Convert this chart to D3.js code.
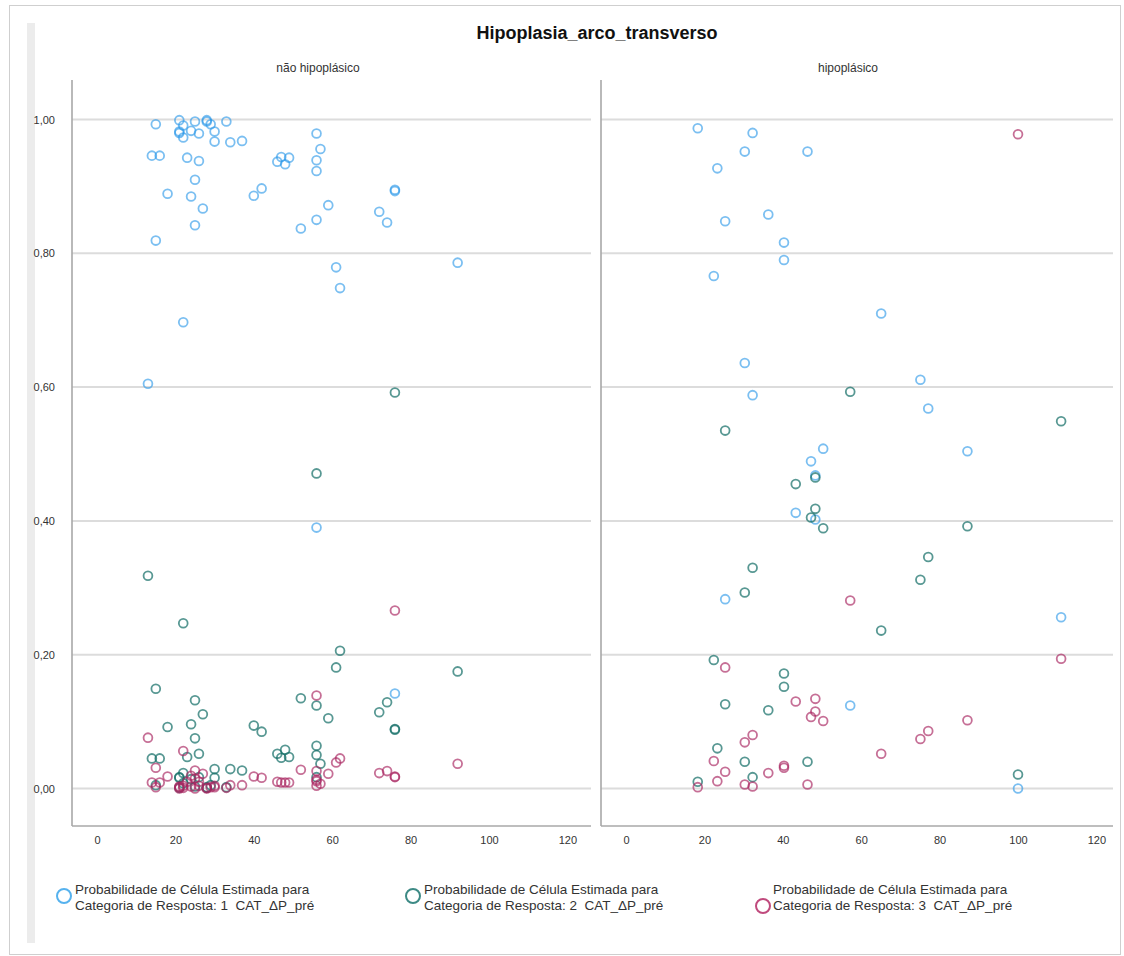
<!DOCTYPE html>
<html>
<head>
<meta charset="utf-8">
<script src="https://cdn.jsdelivr.net/npm/d3@7"></script>
<style>
  body { margin: 0; background: #fff; }
  svg { display: block; font-family: "Liberation Sans", Arial, sans-serif; }
  .legend text { white-space: pre; }
</style>
</head>
<body>
<div id="chart-area"></div>
<script>
const chartTitle = "Hipoplasia_arco_transverso";
const panels = ["não hipoplásico", "hipoplásico"];
const seriesLabels = [
  ["Probabilidade de Célula Estimada para", "Categoria de Resposta: 1  CAT_ΔP_pré"],
  ["Probabilidade de Célula Estimada para", "Categoria de Resposta: 2  CAT_ΔP_pré"],
  ["Probabilidade de Célula Estimada para", "Categoria de Resposta: 3  CAT_ΔP_pré"]
];
const xTicks = [0, 20, 40, 60, 80, 100, 120];
const yTicks = [0, 0.2, 0.4, 0.6, 0.8, 1.0];

// não hipoplásico
const leftX  = [13, 15, 15, 14, 16, 18, 21, 21, 21, 22, 22, 22, 23, 24, 24, 25, 25, 25, 26, 26, 27, 28, 28, 29, 30, 30, 33, 34, 37, 40, 42, 46, 47, 48, 49, 52, 56, 56, 56, 56, 56, 57, 59, 61, 62, 72, 74, 76, 76, 76, 92];
const leftP1 = [0.605, 0.993, 0.819, 0.946, 0.946, 0.889, 0.999, 0.982, 0.980, 0.991, 0.973, 0.697, 0.943, 0.983, 0.885, 0.997, 0.910, 0.842, 0.979, 0.938, 0.867, 0.999, 0.997, 0.993, 0.982, 0.967, 0.997, 0.966, 0.968, 0.886, 0.897, 0.937, 0.944, 0.933, 0.943, 0.837, 0.979, 0.939, 0.923, 0.850, 0.390, 0.956, 0.872, 0.779, 0.748, 0.862, 0.846, 0.895, 0.893, 0.142, 0.786];
const leftP2 = [0.318, 0.005, 0.149, 0.045, 0.045, 0.092, 0.001, 0.016, 0.017, 0.008, 0.023, 0.247, 0.047, 0.014, 0.096, 0.003, 0.075, 0.132, 0.017, 0.052, 0.111, 0.001, 0.002, 0.005, 0.016, 0.029, 0.002, 0.029, 0.027, 0.094, 0.085, 0.052, 0.046, 0.058, 0.047, 0.135, 0.017, 0.050, 0.064, 0.124, 0.471, 0.037, 0.105, 0.181, 0.206, 0.114, 0.129, 0.088, 0.089, 0.592, 0.175];
const leftP3 = [0.076, 0.002, 0.031, 0.009, 0.009, 0.018, 0.000, 0.002, 0.003, 0.001, 0.004, 0.056, 0.010, 0.003, 0.019, 0.000, 0.015, 0.027, 0.004, 0.010, 0.022, 0.000, 0.001, 0.002, 0.002, 0.004, 0.001, 0.005, 0.005, 0.018, 0.016, 0.010, 0.009, 0.009, 0.009, 0.028, 0.004, 0.011, 0.013, 0.026, 0.139, 0.007, 0.022, 0.039, 0.045, 0.023, 0.026, 0.017, 0.018, 0.266, 0.037];

// hipoplásico
const rightX  = [18.3, 22.4, 23.3, 25.3, 25.3, 30.3, 30.3, 32.3, 32.3, 36.3, 40.3, 40.3, 43.3, 46.3, 47.2, 48.3, 48.3, 50.3, 57.2, 65.1, 75.1, 77.1, 87.1, 100, 111];
const rightP1 = [0.987, 0.766, 0.927, 0.848, 0.283, 0.952, 0.636, 0.980, 0.588, 0.858, 0.816, 0.790, 0.412, 0.952, 0.489, 0.468, 0.402, 0.508, 0.124, 0.710, 0.611, 0.568, 0.504, 0.000, 0.256];
const rightP2 = [0.010, 0.192, 0.060, 0.126, 0.535, 0.040, 0.293, 0.017, 0.330, 0.117, 0.152, 0.172, 0.455, 0.040, 0.405, 0.418, 0.465, 0.389, 0.593, 0.236, 0.312, 0.346, 0.392, 0.021, 0.549];
const rightP3 = [0.002, 0.041, 0.011, 0.025, 0.181, 0.006, 0.069, 0.003, 0.080, 0.023, 0.031, 0.034, 0.130, 0.006, 0.107, 0.115, 0.134, 0.101, 0.281, 0.052, 0.074, 0.086, 0.102, 0.978, 0.194];

const W = 1124, H = 956;
const pointColors = ["#2a98e8", "#17706a", "#a82460"];
const pointOpacity = [0.62, 0.72, 0.66];
const legendColors = ["#56b2ee", "#3d8a85", "#c04a7d"];

const svg = d3.select("#chart-area")
  .append("svg")
  .attr("width", W)
  .attr("height", H);

// frame like the exported picture
svg.append("rect")
  .attr("x", 9.5).attr("y", 5.5)
  .attr("width", 1111).attr("height", 949)
  .attr("fill", "#fff")
  .attr("stroke", "#cfcfcf");
svg.append("rect")
  .attr("x", 27).attr("y", 23)
  .attr("width", 8).attr("height", 920)
  .attr("fill", "#ececec");

svg.append("text")
  .attr("x", 597).attr("y", 39)
  .attr("text-anchor", "middle")
  .attr("font-size", 18)
  .attr("font-weight", "bold")
  .attr("fill", "#111")
  .text(chartTitle);

const y = d3.scaleLinear().domain([0, 1]).range([788.5, 119.5]);
const yTop = 80, yBottom = 826;

const panelDefs = [
  { name: panels[0], x0: 72, x1: 591, titleX: 318, xs: leftX, ps: [leftP1, leftP2, leftP3], yLabels: true },
  { name: panels[1], x0: 601, x1: 1113, titleX: 848, xs: rightX, ps: [rightP1, rightP2, rightP3], yLabels: false }
];

const fmt = d => d3.format(".2f")(d).replace(".", ",");

panelDefs.forEach(p => {
  const x = d3.scaleLinear().domain([0, 120]).range([p.x0 + 25, p.x0 + 25 + 470.4]);
  const g = svg.append("g");

  g.append("text")
    .attr("x", p.titleX).attr("y", 72)
    .attr("text-anchor", "middle")
    .attr("font-size", 12)
    .attr("fill", "#333")
    .text(p.name);

  // gridlines
  g.selectAll(".grid")
    .data(yTicks)
    .enter()
    .append("line")
    .attr("x1", p.x0).attr("x2", p.x1)
    .attr("y1", d => y(d)).attr("y2", d => y(d))
    .attr("stroke", "#dcdcdc")
    .attr("stroke-width", 2);

  // axis lines
  g.append("line")
    .attr("x1", p.x0).attr("x2", p.x0)
    .attr("y1", yTop).attr("y2", yBottom)
    .attr("stroke", "#a8a8a8").attr("stroke-width", 1.6);
  g.append("line")
    .attr("x1", p.x0).attr("x2", p.x1)
    .attr("y1", yBottom).attr("y2", yBottom)
    .attr("stroke", "#a8a8a8").attr("stroke-width", 1.6);

  // x axis labels
  const xAxis = d3.axisBottom(x).tickValues(xTicks).tickSize(0).tickPadding(10).tickFormat(d3.format("d"));
  const xa = g.append("g").attr("transform", `translate(0,${yBottom})`).call(xAxis);
  xa.select(".domain").remove();
  xa.selectAll("text").attr("font-size", 11).attr("fill", "#333").attr("font-family", "Liberation Sans, Arial, sans-serif");

  if (p.yLabels) {
    const yAxis = d3.axisLeft(y).tickValues(yTicks).tickSize(0).tickPadding(17).tickFormat(fmt);
    const ya = g.append("g").attr("transform", `translate(${p.x0},0)`).call(yAxis);
    ya.select(".domain").remove();
    ya.selectAll("text").attr("font-size", 11).attr("fill", "#333").attr("font-family", "Liberation Sans, Arial, sans-serif");
  }

  // points: one series per response category
  p.ps.forEach((vals, si) => {
    g.selectAll(".pt" + si)
      .data(vals.map((v, i) => ({ x: p.xs[i], y: v })))
      .enter()
      .append("circle")
      .attr("class", "pt" + si)
      .attr("cx", d => x(d.x))
      .attr("cy", d => y(d.y))
      .attr("r", 4.4)
      .attr("fill", "none")
      .attr("stroke", pointColors[si])
      .attr("stroke-opacity", pointOpacity[si])
      .attr("stroke-width", 1.8);
  });
});

// legend
const legendPos = [
  { cx: 64, cy: 896, tx: 75 },
  { cx: 413, cy: 896, tx: 424 },
  { cx: 763, cy: 906, tx: 773 }
];
seriesLabels.forEach((lines, i) => {
  const lp = legendPos[i];
  const lg = svg.append("g").attr("class", "legend");
  lg.append("circle")
    .attr("cx", lp.cx).attr("cy", lp.cy)
    .attr("r", 7)
    .attr("fill", "none")
    .attr("stroke", legendColors[i])
    .attr("stroke-width", 2);
  lines.forEach((t, k) => {
    lg.append("text")
      .attr("x", lp.tx)
      .attr("y", 894 + k * 16)
      .attr("font-size", 13.5)
      .attr("fill", "#333")
      .text(t);
  });
});
</script>
</body>
</html>
